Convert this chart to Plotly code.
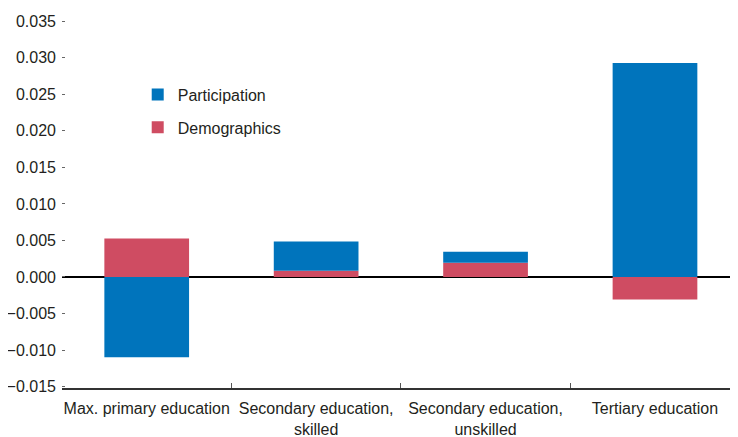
import plotly.graph_objects as go

# categories and values
categories = [
    "Max. primary education",
    "Secondary education,<br>skilled",
    "Secondary education,<br>unskilled",
    "Tertiary education",
]
participation = [-0.0110, 0.0040, 0.0015, 0.0293]
demographics = [0.00525, 0.00086, 0.00196, -0.0031]

y_ticks = [-0.015, -0.010, -0.005, 0.000, 0.005, 0.010, 0.015, 0.020, 0.025, 0.030, 0.035]
y_labels = [f"{v:.3f}".replace("-", "\u2212") for v in y_ticks]

blue = "#0074bc"
red = "#cf4c62"
font_family = "Liberation Sans, Arial, sans-serif"

fig = go.Figure()

# demographics first so it sits at the bottom of the positive stacks
fig.add_trace(go.Bar(
    x=categories, y=demographics, name="Demographics",
    marker=dict(color=red, line=dict(width=0)),
    legendgroup="d", legendrank=2,
))
fig.add_trace(go.Bar(
    x=categories, y=participation, name="Participation",
    marker=dict(color=blue, line=dict(width=0)),
    legendgroup="p", legendrank=1,
))

y_range = [-0.0152, 0.036]

# page body has an 8px margin, so the figure is a bit smaller than the window
fig.update_layout(
    width=730, height=429,
    margin=dict(l=54, r=0, t=6, b=49),
    barmode="relative",
    bargap=0.5,
    plot_bgcolor="white",
    paper_bgcolor="white",
    font=dict(family=font_family, size=16, color="#231f20"),
    legend=dict(
        x=0.112, y=0.83, xanchor="left", yanchor="top",
        traceorder="grouped", tracegroupgap=9,
        bgcolor="rgba(0,0,0,0)", font=dict(size=16),
    ),
    xaxis=dict(
        range=[-0.5, 3.49], automargin=False, tickangle=0,
        showline=True, linecolor="#333333", linewidth=1.5,
        ticks="inside", tickson="boundaries", ticklen=5,
        tickcolor="#555555", showgrid=False,
        ticklabelstandoff=5,
        tickfont=dict(size=16),
    ),
    yaxis=dict(
        range=y_range, automargin=False,
        tickvals=y_ticks, ticktext=y_labels,
        ticks="inside", ticklen=3, tickcolor="#666666",
        showline=False, showgrid=False,
        zeroline=True, zerolinecolor="black", zerolinewidth=1.5,
        ticklabelstandoff=5,
        tickfont=dict(size=16),
    ),
    yaxis2=dict(
        range=y_range, overlaying="y", side="right", automargin=False,
        tickvals=y_ticks, showticklabels=False,
        ticks="inside", ticklen=3, tickcolor="#666666",
        showline=False, showgrid=False, zeroline=False,
    ),
)

fig.write_html("out.html")
